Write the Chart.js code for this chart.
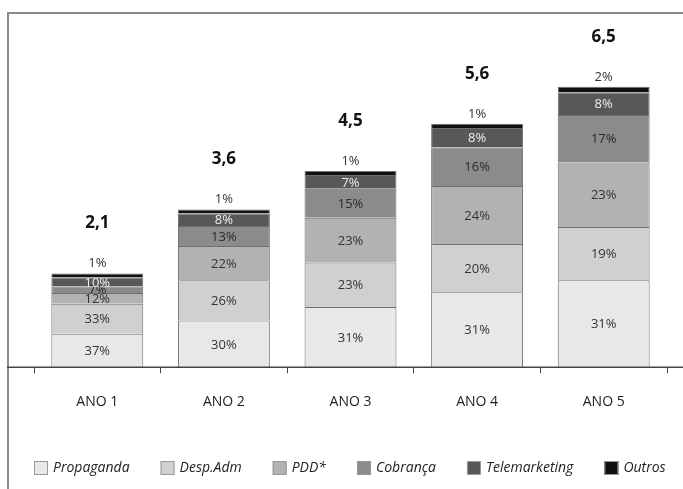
<!DOCTYPE html>
<html>
<head>
<meta charset="utf-8">
<script src="https://cdn.jsdelivr.net/npm/chart.js@4.4.1/dist/chart.umd.min.js"></script>
<style>
  html, body { margin: 0; padding: 0; background: #fff; overflow: hidden; }
  #wrap { position: relative; width: 683px; height: 489px; }
  #frame { position: absolute; left: 7px; top: 12px; width: 700px; height: 500px; border: 2px solid #8a8a8a; box-sizing: border-box; }
  #chart { position: absolute; left: 0; top: 0; }
</style>
</head>
<body>
<div id="wrap">
  <div id="frame"></div>
  <canvas id="chart" width="683" height="489"></canvas>
</div>
<script>
// categories and totals (R$ mi)
const categories = ["ANO 1", "ANO 2", "ANO 3", "ANO 4", "ANO 5"];
const totals = [2.1, 3.6, 4.5, 5.6, 6.5];
const totalLabels = ["2,1", "3,6", "4,5", "5,6", "6,5"];

// share of each cost line in the yearly total (%)
const propaganda = [37, 30, 31, 31, 31];
const despAdm = [33, 26, 23, 20, 19];
const pdd = [12, 22, 23, 24, 23];
const cobranca = [7, 13, 15, 16, 17];
const telemarketing = [10, 8, 7, 8, 8];
const outros = [1, 1, 1, 1, 2];

const series = [
  { label: "Propaganda", shares: propaganda, color: "#e8e8e8", text: "#333" },
  { label: "Desp.Adm", shares: despAdm, color: "#d0d0d0", text: "#333" },
  { label: "PDD*", shares: pdd, color: "#b2b2b2", text: "#333" },
  { label: "Cobrança", shares: cobranca, color: "#8b8b8b", text: "#2a2a2a" },
  { label: "Telemarketing", shares: telemarketing, color: "#585858", text: "#eeeeee" },
  { label: "Outros", shares: outros, color: "#111111", text: "#333" }
];

const FONT = "'Open Sans', 'DejaVu Sans', sans-serif";

const datasets = series.map(s => ({
  label: s.label,
  data: s.shares.map((p, i) => p / 100 * totals[i]),
  shares: s.shares,
  textColor: s.text,
  backgroundColor: s.color,
  borderColor: "#6f6f6f",
  borderWidth: 1,
  minBarLength: 4,
  barPercentage: 0.726,
  categoryPercentage: 1
}));

// percent labels, totals, baseline and legend
const decorations = {
  id: "decorations",
  afterDatasetsDraw(chart) {
    const ctx = chart.ctx;
    const y0 = chart.scales.y.getPixelForValue(0);
    ctx.save();

    // baseline across the frame
    ctx.strokeStyle = "#444";
    ctx.lineWidth = 1.5;
    ctx.beginPath();
    ctx.moveTo(7, y0);
    ctx.lineTo(683, y0);
    ctx.stroke();

    ctx.textAlign = "center";
    ctx.textBaseline = "middle";
    const last = chart.data.datasets.length - 1;
    chart.data.datasets.forEach((ds, di) => {
      const meta = chart.getDatasetMeta(di);
      meta.data.forEach((bar, i) => {
        ctx.font = "13px " + FONT;
        if (di === last) {
          ctx.fillStyle = "#333";
          ctx.fillText(ds.shares[i] + "%", bar.x, bar.y - 10);
          ctx.font = "bold 17px " + FONT;
          ctx.fillStyle = "#111";
          ctx.fillText(totalLabels[i], bar.x, bar.y - 50);
        } else {
          ctx.fillStyle = ds.textColor;
          ctx.fillText(ds.shares[i] + "%", bar.x, (bar.y + bar.base) / 2 + 1);
        }
      });
    });

    // legend row
    let x = 34;
    const ly = 468;
    ctx.textAlign = "left";
    ctx.font = "italic 14px " + FONT;
    chart.data.datasets.forEach(ds => {
      ctx.fillStyle = ds.backgroundColor;
      ctx.fillRect(x, ly - 7, 14, 14);
      ctx.strokeStyle = "#999";
      ctx.lineWidth = 1;
      ctx.strokeRect(x + 0.5, ly - 6.5, 13, 13);
      ctx.fillStyle = "#222";
      ctx.fillText(ds.label, x + 19, ly);
      x += 19 + ctx.measureText(ds.label).width + 31;
    });
    ctx.restore();
  }
};

new Chart(document.getElementById("chart"), {
  type: "bar",
  data: { labels: categories, datasets },
  options: {
    responsive: false,
    animation: false,
    layout: { padding: { left: 34, right: 16, top: 20, bottom: 59 } },
    plugins: { legend: { display: false }, tooltip: { enabled: false } },
    scales: {
      x: {
        stacked: true,
        border: { display: false },
        grid: { display: true, drawOnChartArea: false, offset: true, tickLength: 6, color: "#444", lineWidth: 1 },
        ticks: { padding: 20, color: "#222", font: { family: FONT, size: 14 } }
      },
      y: {
        stacked: true,
        display: false,
        min: 0,
        max: 8.05
      }
    }
  },
  plugins: [decorations]
});
</script>
</body>
</html>
